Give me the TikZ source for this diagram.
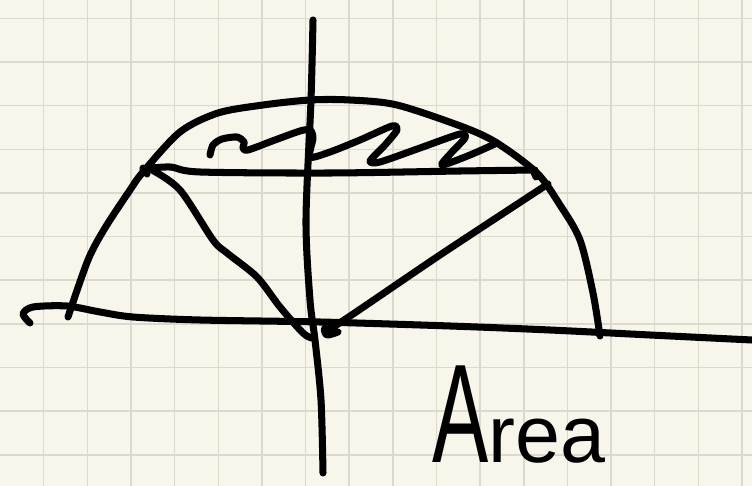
\documentclass[tikz,border=0pt]{standalone}
\usepackage{fontspec}
\setmainfont{Liberation Sans}
\usepackage{graphicx}
\usetikzlibrary{positioning}
\definecolor{paper}{RGB}{248,246,234}
\definecolor{gridline}{RGB}{219,217,204}
\definecolor{ink}{RGB}{0,0,0}
\tikzset{
  pen/.style={draw=ink, line width=4pt, line cap=round, line join=round},
  gridrule/.style={draw=gridline, line width=0.8pt},
  word/.style={anchor=base west, inner sep=0pt, color=ink}
}
\begin{document}
\begin{tikzpicture}[x=0.02cm, y=-0.02cm]
  % Paper and squared grid
  \fill[paper] (0,0) rectangle (752,486);
  \useasboundingbox (0,0) rectangle (752,486);
  \foreach \k in {1,...,17} {
    \draw[gridrule] ({43.65*\k},0) -- ({43.65*\k},486);
  }
  \foreach \k in {0,...,10} {
    \draw[gridrule] (0,{18.3+43.65*\k}) -- (752,{18.3+43.65*\k});
  }

  % Axes
  \draw[pen] plot[smooth] coordinates {(30,323) (23,314) (33,307) (67,306) (100,312) (133,317) (200,320) (320,322) (450,326) (550,330) (650,335) (752,340)};
  \draw[pen] plot[smooth] coordinates {(313,20) (311,100) (306,220) (310,300) (315,340) (321,400) (323,473)};

  % Half circle
  \draw[pen] plot[smooth] coordinates {(68,317) (88,260) (105,228) (130,190) (143,172) (180,132) (218,113) (263,105) (310,100) (350,100) (397,105) (463,127) (497,143) (537,173) (560,205) (580,240) (593,293) (600,336)};

  % Chord and the two sides down to the origin
  \draw[pen] plot[smooth] coordinates {(143,169) (170,167) (200,172) (330,173) (460,171) (535,170)};
  \draw[pen] (143,168) -- (147,174);
  \draw[pen] (533,170) -- (536,177);
  \draw[pen] plot[smooth] coordinates {(152,170) (180,190) (213,240) (227,253) (257,277) (280,307) (303,333) (312,338)};
  \draw[pen] plot[smooth] coordinates {(548,184) (440,255) (338,324) (325,328) (327,335) (338,332)};

  % Shading of the cap
  \draw[pen] plot[smooth, tension=0.45] coordinates {(210,155) (213,145) (222,139) (237,137) (244,142) (243,148) (248,150) (275,140) (300,131) (310,130) (313,138) (310,157) (330,152) (360,140) (392,126) (397,130) (385,145) (370,161) (380,162) (420,148) (460,134) (465,138) (452,152) (442,165) (470,155) (497,143)};

  % Label
  \node[word] (area) at (432,463) {\scalebox{0.6}[1]{\fontsize{80}{80}\selectfont A}{\fontsize{46}{46}\selectfont rea}};
\end{tikzpicture}
\end{document}
